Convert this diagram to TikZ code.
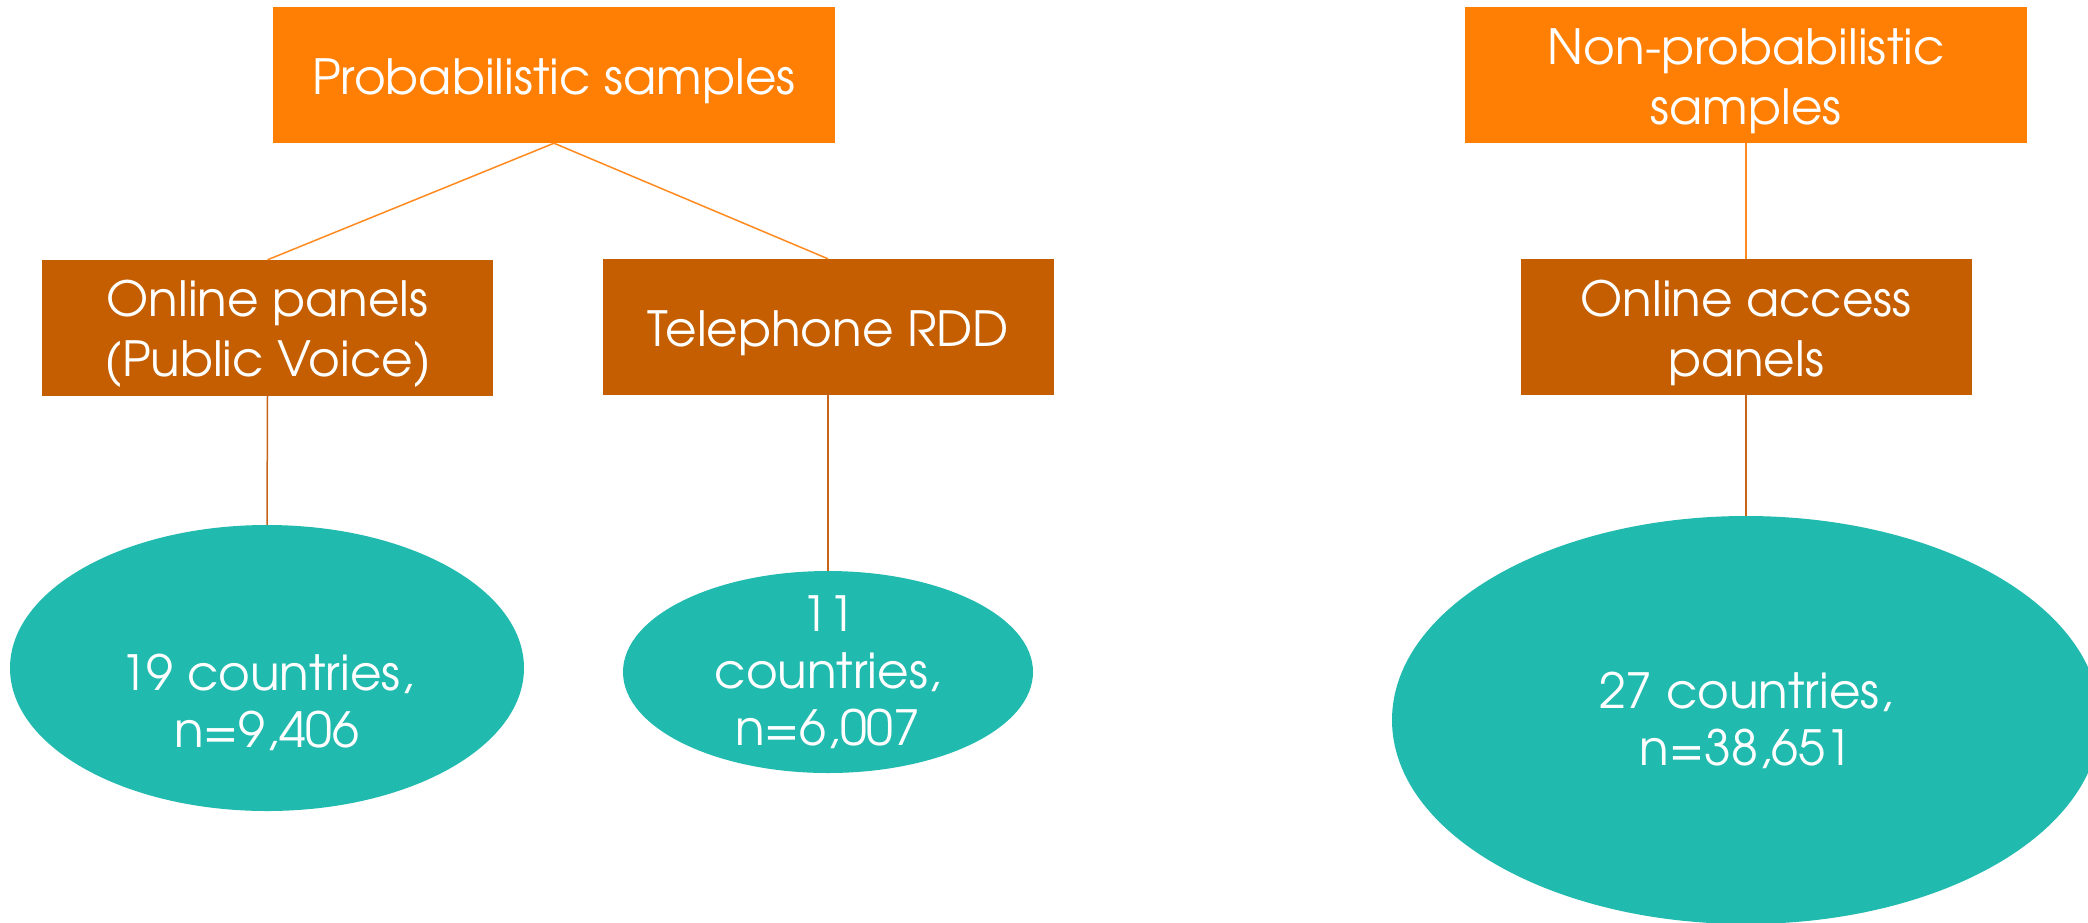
\documentclass[tikz,border=0pt]{standalone}
\usepackage{fontspec}
\setmainfont{texgyreadventor-regular.otf}
\usetikzlibrary{shapes.geometric}
\definecolor{topfill}{HTML}{FF7F05}
\definecolor{midfill}{HTML}{C45E00}
\definecolor{leaffill}{HTML}{21BAAE}
\definecolor{linktop}{HTML}{FF8A1F}
\definecolor{linkmid}{HTML}{C8641A}
\begin{document}
\begin{tikzpicture}[x=1pt,y=-1pt,
  every node/.style={text=white, align=center, inner sep=0pt},
  head/.style={rectangle, fill=topfill, minimum width=562pt, minimum height=136pt},
  method/.style={rectangle, fill=midfill, minimum width=451pt, minimum height=136pt},
  leaf/.style={ellipse, fill=leaffill},
  boxtext/.style={font=\fontsize{48.5}{60}\selectfont, yshift=-6pt},
  leaftext/.style={font=\fontsize{48.5}{57}\selectfont},
  uplink/.style={draw=linktop, line width=1.5pt},
  downlink/.style={draw=linkmid, line width=1.5pt}]
\clip (0,0) rectangle (2088,922);

% sample types
\node[head] (prob) at (554,75) {};
\node[head] (nonprob) at (1746,75) {};
\node[boxtext] (probT) at (prob.center) {Probabilistic samples};
\node[boxtext] (nonprobT) at (nonprob.center) {Non-probabilistic\\samples};

% collection methods
\node[method] (panels) at (267.5,328) {};
\node[method] (rdd) at (828,327) {};
\node[method] (access) at (1746,327) {};
\node[boxtext] (panelsT) at (panels.center) {Online panels\\(Public Voice)};
\node[boxtext] (rddT) at (rdd.center) {Telephone RDD};
\node[boxtext] (accessT) at (access.center) {Online access\\panels};

% coverage ellipses
\node[leaf, minimum width=514pt, minimum height=286pt] (panelsN) at (267,668) {};
\node[leaf, minimum width=410pt, minimum height=202pt] (rddN) at (828,672) {};
\node[leaf, minimum width=708pt, minimum height=408pt] (accessN) at (1746,720) {};
\node[leaftext, yshift=-34pt] (panelsC) at (panelsN.center) {19 countries,\\n=9,406};
\node[leaftext] (rddC) at (rddN.center) {11\\countries,\\n=6,007};
\node[leaftext] (accessC) at (accessN.center) {27 countries,\\n=38,651};

% connectors
\draw[uplink] (prob.south) -- (panels.north);
\draw[uplink] (prob.south) -- (rdd.north);
\draw[uplink] (nonprob.south) -- (access.north);
\draw[downlink] (panels.south) -- (panelsN.north);
\draw[downlink] (rdd.south) -- (rddN.north);
\draw[downlink] (access.south) -- (accessN.north);
\end{tikzpicture}
\end{document}
